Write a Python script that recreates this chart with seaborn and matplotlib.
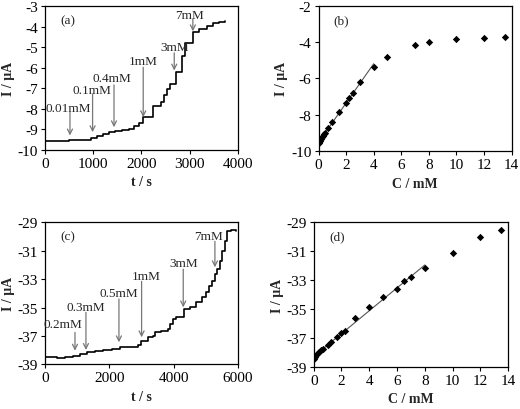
import numpy as np
import pandas as pd
import seaborn as sns
import matplotlib.pyplot as plt

sns.set_style("ticks")
plt.rcParams["font.family"] = ["Liberation Serif", "DejaVu Serif"]
plt.rcParams["axes.unicode_minus"] = False

# (a) amperometric trace, low range
a_time = [0, 500, 950, 1080, 1200, 1320, 1450, 1600, 1750, 1850, 1950, 2040, 2250, 2400,
          2460, 2530, 2600, 2720, 2840, 2900, 3060, 3200, 3350, 3480, 3600, 3730]
a_curr = [-9.55, -9.5, -9.42, -9.32, -9.22, -9.14, -9.08, -9.03, -8.97, -8.85, -8.68, -8.38,
          -7.85, -7.65, -7.35, -7.05, -6.8, -6.2, -5.45, -4.78, -4.25, -4.12, -3.95, -3.82,
          -3.77, -3.75]
a_labels = ["0.01mM", "0.1mM", "0.4mM", "1mM", "3mM", "7mM"]
a_arrow_t = [518, 987, 1431, 2037, 2680, 3066]

# (b) calibration, first electrode
b_conc = [0, 0.05, 0.1, 0.2, 0.26, 0.35, 0.4, 0.5, 0.7, 1.0, 1.5, 2.0, 2.2, 2.5, 3.0, 4.0,
          5.0, 7.0, 8.0, 10.0, 12.0, 13.5]
b_curr = [-9.58, -9.5, -9.43, -9.34, -9.25, -9.15, -9.06, -8.99, -8.71, -8.4, -7.85, -7.33,
          -7.06, -6.78, -6.2, -5.37, -4.8, -4.17, -4.03, -3.86, -3.77, -3.71]
b_lin_max = 4.0

# (c) amperometric trace, second electrode
c_time = [0, 360, 620, 880, 1090, 1300, 1550, 1810, 2070, 2330, 2750, 2900, 3000, 3200,
          3370, 3420, 3620, 3830, 3890, 3990, 4090, 4320, 4510, 4710, 4870, 5000, 5100,
          5210, 5290, 5340, 5440, 5520, 5600, 5670, 5780, 5940]
c_curr = [-38.46, -38.58, -38.5, -38.39, -38.27, -38.15, -38.08, -37.99, -37.92, -37.8,
          -37.76, -37.62, -37.33, -37.1, -36.98, -36.75, -36.63, -36.51, -36.16, -35.81,
          -35.66, -35.1, -34.94, -34.63, -34.28, -33.93, -33.46, -33.11, -32.64, -32.29,
          -31.7, -31.0, -30.29, -29.63, -29.54, -29.59]
c_labels = ["0.2mM", "0.3mM", "0.5mM", "1mM", "3mM", "7mM"]
c_arrow_t = [933, 1274, 2300, 3005, 4300, 5285]

# (d) calibration, second electrode
d_conc = [0, 0.1, 0.2, 0.3, 0.4, 0.5, 0.7, 1.0, 1.25, 1.7, 2.0, 2.25, 3.0, 4.0, 5.0, 6.0,
          6.5, 7.0, 8.0, 10.0, 12.0, 13.5]
d_curr = [-38.45, -38.31, -38.2, -38.08, -37.97, -37.85, -37.8, -37.5, -37.3, -36.95, -36.7,
          -36.56, -35.64, -34.87, -34.2, -33.6, -33.1, -32.8, -32.2, -31.16, -30.03, -29.5]
d_lin_max = 8.0

fig = plt.figure(figsize=(5.2, 4.1), dpi=100)
ax_a = fig.add_axes([0.0865, 0.632, 0.371, 0.351])
ax_b = fig.add_axes([0.6125, 0.629, 0.3715, 0.355])
ax_c = fig.add_axes([0.0865, 0.109, 0.371, 0.3464])
ax_d = fig.add_axes([0.6033, 0.1032, 0.374, 0.3522])

fs = 9.5
lab = dict(fontsize=fs + 0.5, fontweight="bold")
arrow = dict(arrowstyle="->", color="#777777", lw=0.9, shrinkA=0, shrinkB=0,
             mutation_scale=9)


def trace(ax, t, i, labels, arrow_t, text_dx, text_y, tail_y, tip_y):
    sns.lineplot(x=t, y=i, ax=ax, color="black", lw=1.2, drawstyle="steps-post",
                 estimator=None, sort=False)
    for k, name in enumerate(labels):
        ax.annotate("", xy=(arrow_t[k], tip_y[k]), xytext=(arrow_t[k], tail_y[k]),
                    arrowprops=arrow)
        ax.text(arrow_t[k] + text_dx[k], text_y[k], name, ha="center", va="center",
                fontsize=fs)


def calib(ax, c, i, lin_max):
    df = pd.DataFrame({"c": c, "i": i})
    sub = df[df["c"] <= lin_max]
    k, b = np.polyfit(sub["c"], sub["i"], 1)
    xs = np.array([0, lin_max])
    sns.lineplot(x=xs, y=k * xs + b, ax=ax, color="#555555", lw=0.8)
    sns.scatterplot(data=df, x="c", y="i", ax=ax, marker="D", s=14, color="black",
                    edgecolor="black", linewidth=0, zorder=3)


trace(ax_a, a_time, a_curr, a_labels, a_arrow_t,
      [-35, -20, -50, 0, 15, -60],
      [-7.97, -7.07, -6.5, -5.66, -5.0, -3.42],
      [-8.17, -7.28, -6.84, -5.98, -5.28, -3.63],
      [-9.3, -9.14, -8.9, -8.41, -6.14, -4.23])
ax_a.set_xlim(0, 4000)
ax_a.set_ylim(-10, -3)
ax_a.set_xticks(range(0, 4001, 1000))
ax_a.set_yticks(range(-10, -2, 1))
ax_a.set_xlabel("t / s", **lab)
ax_a.set_ylabel("I / μA", **lab, labelpad=2)

calib(ax_b, b_conc, b_curr, b_lin_max)
ax_b.set_xlim(0, 14)
ax_b.set_ylim(-10, -2)
ax_b.set_xticks(range(0, 15, 2))
ax_b.set_yticks(range(-10, -1, 2))
ax_b.set_xlabel("C / mM", **lab)
ax_b.set_ylabel("I / μA", **lab, labelpad=2)

trace(ax_c, c_time, c_curr, c_labels, c_arrow_t,
      [-363, -9, 0, 155, 0, -208],
      [-36.16, -34.94, -34.0, -32.76, -31.9, -29.94],
      [-36.75, -35.34, -34.4, -33.16, -32.3, -30.34],
      [-38.04, -37.99, -37.45, -37.1, -34.99, -32.17])
ax_c.set_xlim(0, 6000)
ax_c.set_ylim(-39, -29)
ax_c.set_xticks(range(0, 6001, 2000))
ax_c.set_yticks(range(-39, -28, 2))
ax_c.set_xlabel("t / s", **lab)
ax_c.set_ylabel("I / μA", **lab, labelpad=2)

calib(ax_d, d_conc, d_curr, d_lin_max)
ax_d.set_xlim(0, 14)
ax_d.set_ylim(-39, -29)
ax_d.set_xticks(range(0, 15, 2))
ax_d.set_yticks(range(-39, -28, 2))
ax_d.set_xlabel("C / mM", **lab)
ax_d.set_ylabel("I / μA", **lab, labelpad=2)

for ax, tag in zip([ax_a, ax_b, ax_c, ax_d], ["(a)", "(b)", "(c)", "(d)"]):
    ax.text(0.12, 0.9, tag, transform=ax.transAxes, ha="center", va="center",
            fontsize=fs)
    for s in ax.spines.values():
        s.set_visible(True)
        s.set_color("black")
        s.set_linewidth(0.9)
    ax.tick_params(labelsize=fs + 1.5, length=3, width=0.8, colors="black", pad=2)

fig.savefig("out.png", dpi=100)
